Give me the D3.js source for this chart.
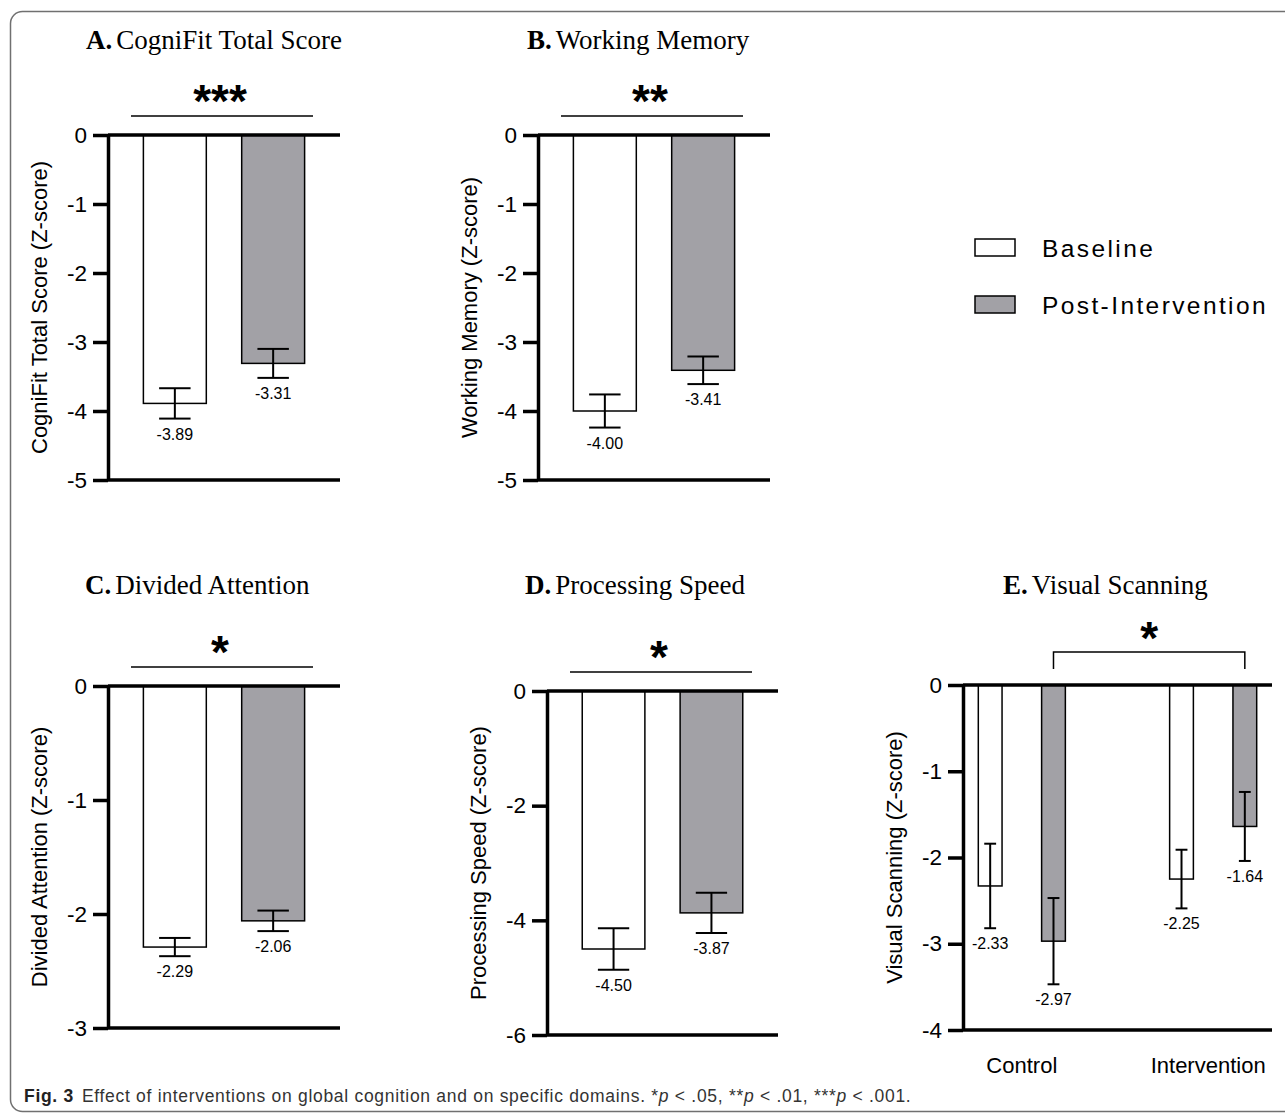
<!DOCTYPE html>
<html>
<head>
<meta charset="utf-8">
<script src="https://cdn.jsdelivr.net/npm/d3@7"></script>
<style>
  body { margin: 0; background: #fff; }
  svg { display: block; }
  text { font-family: "Liberation Sans", Arial, sans-serif; fill: #000; }
  .title { font-family: "Liberation Serif", "Times New Roman", serif; font-size: 27px; }
  .tick text { font-size: 22.5px; }
  .ylab { font-size: 22px; }
  .val { font-size: 16px; }
  .legend { font-size: 24.5px; letter-spacing: 2.4px; }
  .caption { font-family: "Liberation Sans", Arial, sans-serif; font-size: 17.5px; letter-spacing: 0.7px; fill: #333; }
</style>
</head>
<body>
<div id="chart"></div>
<script>
// panels A-D: baseline vs post-intervention
var panelLetters = ['A.', 'B.', 'C.', 'D.', 'E.'];
var panelNames = ['CogniFit Total Score', 'Working Memory', 'Divided Attention', 'Processing Speed', 'Visual Scanning'];
var yLabels = ['CogniFit Total Score (Z-score)', 'Working Memory (Z-score)', 'Divided Attention (Z-score)',
               'Processing Speed (Z-score)', 'Visual Scanning (Z-score)'];
var groups = ['Baseline', 'Post-Intervention'];
var baselineMeans = [-3.89, -4.00, -2.29, -4.50];
var postMeans = [-3.31, -3.41, -2.06, -3.87];
var baselineSE = [0.22, 0.24, 0.08, 0.36];
var postSE = [0.21, 0.20, 0.09, 0.35];
var yTicks = [
    [0, -1, -2, -3, -4, -5],
    [0, -1, -2, -3, -4, -5],
    [0, -1, -2, -3],
    [0, -2, -4, -6],
    [0, -1, -2, -3, -4]
];
var sigStars = ['***', '**', '*', '*', '*'];

// panel E: control vs intervention
var scanGroups = ['Control', 'Intervention'];
var scanBaseline = [-2.33, -2.25];
var scanPost = [-2.97, -1.64];
var scanBaselineSE = [0.49, 0.34];
var scanPostSE = [0.50, 0.40];

var grey = '#a2a1a6';

// where each panel sits on the page
var layout = [
    {x: 108, top: 135, bottom: 480, w: 232, titleX: 86, titleY: 49},
    {x: 538, top: 135, bottom: 480, w: 232, titleX: 527, titleY: 49},
    {x: 108, top: 686, bottom: 1028, w: 232, titleX: 85, titleY: 594},
    {x: 547, top: 691, bottom: 1035, w: 231, titleX: 525, titleY: 594},
    {x: 963, top: 685, bottom: 1030, w: 309, titleX: 1003, titleY: 594}
];

var svg = d3.select('#chart').append('svg')
    .attr('width', 1285)
    .attr('height', 1113);

// frame
svg.append('rect')
    .attr('x', 10.5).attr('y', 11.5)
    .attr('width', 1300).attr('height', 1100)
    .attr('rx', 12)
    .style('fill', 'none')
    .style('stroke', '#707070')
    .style('stroke-width', 1.5);

function drawFrame(i) {
    var L = layout[i];
    var g = svg.append('g');

    // title
    var t = g.append('text').attr('class', 'title')
        .attr('x', L.titleX).attr('y', L.titleY);
    t.append('tspan').style('font-weight', 'bold').text(panelLetters[i]);
    t.append('tspan').attr('dx', 4).text(panelNames[i]);

    // y label
    g.append('text').attr('class', 'ylab')
        .attr('text-anchor', 'middle')
        .attr('transform', 'translate(' + (L.x - 61) + ',' + ((L.top + L.bottom) / 2) + ') rotate(-90)')
        .text(yLabels[i]);
    return g;
}

function drawAxes(g, i, yScale) {
    var L = layout[i];
    var axis = d3.axisLeft(yScale)
        .tickValues(yTicks[i])
        .tickSize(15)
        .tickSizeOuter(0)
        .tickPadding(6)
        .tickFormat(function(d) { return String(d); });
    var ax = g.append('g')
        .attr('transform', 'translate(' + L.x + ',0)')
        .call(axis);
    ax.selectAll('.domain, .tick line')
        .style('stroke', '#000')
        .style('stroke-width', 3.5);
    ax.selectAll('.tick text').style('fill', '#000');

    // lines at zero and at the floor of the axis
    [0, yTicks[i][yTicks[i].length - 1]].forEach(function(v) {
        g.append('line')
            .attr('x1', L.x).attr('x2', L.x + L.w)
            .attr('y1', yScale(v)).attr('y2', yScale(v))
            .style('stroke', '#000')
            .style('stroke-width', 3.5);
    });
}

function drawBar(g, x, bw, yScale, mean, se, fill) {
    g.append('rect')
        .attr('x', x)
        .attr('y', yScale(0))
        .attr('width', bw)
        .attr('height', yScale(mean) - yScale(0))
        .style('fill', fill)
        .style('stroke', '#000')
        .style('stroke-width', 1.5);

    var cx = x + bw / 2;
    var cap = bw / 4;
    g.append('line')
        .attr('x1', cx).attr('x2', cx)
        .attr('y1', yScale(mean + se)).attr('y2', yScale(mean - se))
        .style('stroke', '#000').style('stroke-width', 2);
    [mean + se, mean - se].forEach(function(v) {
        g.append('line')
            .attr('x1', cx - cap).attr('x2', cx + cap)
            .attr('y1', yScale(v)).attr('y2', yScale(v))
            .style('stroke', '#000').style('stroke-width', 2);
    });

    g.append('text').attr('class', 'val')
        .attr('text-anchor', 'middle')
        .attr('x', cx)
        .attr('y', yScale(mean - se) + 21)
        .text(mean.toFixed(2));
}

function drawStars(g, cx, cy, stars) {
    var fs = 46;
    g.append('text')
        .attr('text-anchor', 'middle')
        .attr('x', cx)
        .attr('y', cy + 0.57 * fs)
        .style('font-size', fs + 'px')
        .style('font-weight', 'bold')
        .text(stars);
}

// panels A-D
for (var i = 0; i < 4; i++) {
    var L = layout[i];
    var y = d3.scaleLinear()
        .domain([yTicks[i][yTicks[i].length - 1], 0])
        .range([L.bottom, L.top]);
    var x = d3.scaleBand()
        .domain(groups)
        .range([L.x, L.x + L.w])
        .paddingInner(0.36)
        .paddingOuter(0.36);

    var g = drawFrame(i);
    drawBar(g, x(groups[0]), x.bandwidth(), y, baselineMeans[i], baselineSE[i], '#fff');
    drawBar(g, x(groups[1]), x.bandwidth(), y, postMeans[i], postSE[i], grey);
    drawAxes(g, i, y);

    // significance line
    var sy = L.top - 19;
    g.append('line')
        .attr('x1', L.x + 23).attr('x2', L.x + 205)
        .attr('y1', sy).attr('y2', sy)
        .style('stroke', '#000').style('stroke-width', 1.5);
    drawStars(g, L.x + 112, L.top - 44, sigStars[i]);
}

// panel E
(function() {
    var i = 4;
    var L = layout[i];
    var y = d3.scaleLinear()
        .domain([yTicks[i][yTicks[i].length - 1], 0])
        .range([L.bottom, L.top]);
    var x0 = d3.scaleBand()
        .domain(scanGroups)
        .range([L.x, L.x + L.w])
        .paddingInner(0.545)
        .paddingOuter(0.08);
    var x1 = d3.scaleBand()
        .domain(groups)
        .range([0, x0.bandwidth()])
        .paddingInner(0.625)
        .paddingOuter(0);

    var g = drawFrame(i);
    scanGroups.forEach(function(c, k) {
        drawBar(g, x0(c) + x1(groups[0]), x1.bandwidth(), y, scanBaseline[k], scanBaselineSE[k], '#fff');
        drawBar(g, x0(c) + x1(groups[1]), x1.bandwidth(), y, scanPost[k], scanPostSE[k], grey);
        g.append('text')
            .attr('text-anchor', 'middle')
            .attr('x', x0(c) + x0.bandwidth() / 2 - 5 * k)
            .attr('y', 1073)
            .style('font-size', '22px')
            .text(c);
    });
    drawAxes(g, i, y);

    // bracket between the two post-intervention bars
    var bx1 = x0(scanGroups[0]) + x1(groups[1]) + x1.bandwidth() / 2;
    var bx2 = x0(scanGroups[1]) + x1(groups[1]) + x1.bandwidth() / 2;
    var by = L.top - 33;
    g.append('path')
        .attr('d', 'M' + bx1 + ',' + (L.top - 16) + 'V' + by + 'H' + bx2 + 'V' + (L.top - 16))
        .style('fill', 'none')
        .style('stroke', '#000')
        .style('stroke-width', 1.5);
    drawStars(g, (bx1 + bx2) / 2, L.top - 57, sigStars[i]);
})();

// legend
var legend = svg.append('g').attr('transform', 'translate(975,239)');
groups.forEach(function(d, k) {
    legend.append('rect')
        .attr('x', 0).attr('y', k * 57)
        .attr('width', 40).attr('height', 17)
        .style('fill', k == 0 ? '#fff' : grey)
        .style('stroke', '#000')
        .style('stroke-width', 1.5);
    legend.append('text').attr('class', 'legend')
        .attr('x', 67).attr('y', k * 57 + 18)
        .text(d);
});

// caption
var cap = svg.append('text').attr('class', 'caption')
    .attr('x', 24).attr('y', 1102);
cap.append('tspan').style('font-weight', 'bold').style('fill', '#222').text('Fig. 3');
cap.append('tspan').attr('dx', 8).text('Effect of interventions on global cognition and on specific domains. *');
cap.append('tspan').style('font-style', 'italic').text('p');
cap.append('tspan').text(' < .05, **');
cap.append('tspan').style('font-style', 'italic').text('p');
cap.append('tspan').text(' < .01, ***');
cap.append('tspan').style('font-style', 'italic').text('p');
cap.append('tspan').text(' < .001.');
</script>
</body>
</html>
